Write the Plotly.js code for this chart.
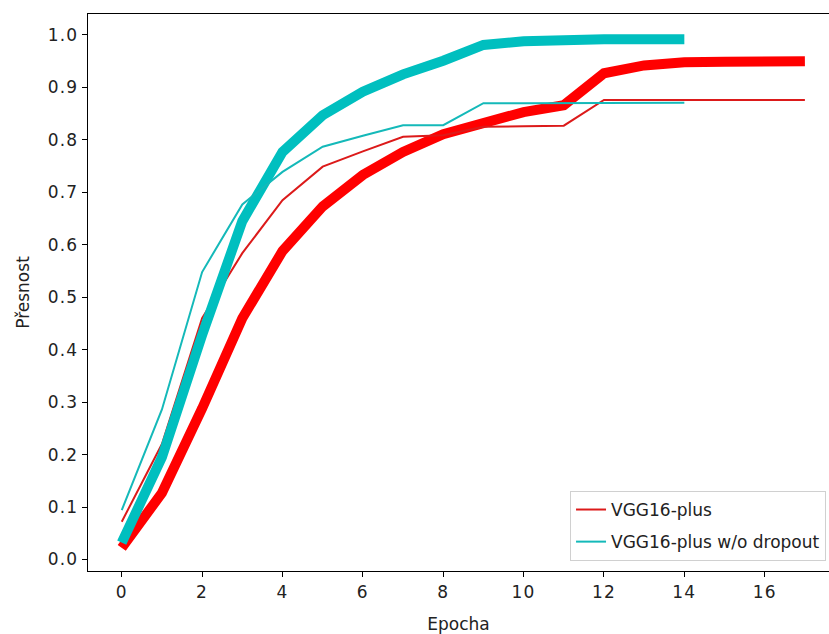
<!DOCTYPE html>
<html>
<head>
<meta charset="utf-8">
<script src="https://cdn.plot.ly/plotly-3.0.1.min.js"></script>
<style>
html,body{margin:0;padding:0;background:#fff;}
#chart{width:829px;height:634px;}
#chart .xtick text, #chart .ytick text{letter-spacing:1.2px;}
</style>
</head>
<body>
<div id="chart"></div>
<script>
// Epochs
const epochsPlus = [0,1,2,3,4,5,6,7,8,9,10,11,12,13,14,15,16,17];
const epochsNoDrop = [0,1,2,3,4,5,6,7,8,9,10,11,12,13,14];
// VGG16-plus (thick = training, thin = validation)
const plusTrain = [0.022,0.127,0.288,0.460,0.588,0.673,0.733,0.777,0.811,0.832,0.853,0.866,0.927,0.942,0.948,0.949,0.950,0.950];
const plusVal   = [0.072,0.220,0.460,0.584,0.685,0.749,0.778,0.806,0.809,0.825,0.826,0.827,0.876,0.876,0.876,0.876,0.876,0.876];
// VGG16-plus w/o dropout
const noDropTrain = [0.032,0.195,0.428,0.645,0.777,0.847,0.892,0.925,0.951,0.981,0.988,0.991,0.992,0.992,0.992];
const noDropVal   = [0.094,0.286,0.548,0.677,0.739,0.787,0.808,0.828,0.828,0.870,0.870,0.870,0.871,0.871,0.871];
const names = ['VGG16-plus', 'VGG16-plus w/o dropout'];
const xTicks = [0,2,4,6,8,10,12,14,16];
const yTicks = [0,0.1,0.2,0.3,0.4,0.5,0.6,0.7,0.8,0.9,1.0];

const RED = '#ff0000', RED_THIN = '#dc1a1a';
const CYAN = '#00bfbf', CYAN_THIN = '#14b9b9';

const traces = [
  {x: epochsPlus, y: plusTrain, mode: 'lines', line: {color: RED, width: 10}, showlegend: false, name: names[0], legendgroup: 'a'},
  {x: epochsPlus, y: plusVal, mode: 'lines', line: {color: RED_THIN, width: 2}, name: names[0], legendgroup: 'a'},
  {x: epochsNoDrop, y: noDropTrain, mode: 'lines', line: {color: CYAN, width: 10}, showlegend: false, name: names[1], legendgroup: 'b'},
  {x: epochsNoDrop, y: noDropVal, mode: 'lines', line: {color: CYAN_THIN, width: 2}, name: names[1], legendgroup: 'b'}
];

const font = {family: 'DejaVu Sans, sans-serif', size: 17, color: '#222'};
const layout = {
  width: 829, height: 634,
  margin: {l: 88, r: 0, t: 14, b: 63, pad: 0},
  paper_bgcolor: '#fff', plot_bgcolor: '#fff',
  font: font,
  showlegend: true,
  xaxis: {
    range: [-0.84, 17.6], tickvals: xTicks, ticktext: xTicks.map(String),
    showgrid: false, zeroline: false, showline: true, linecolor: '#000', linewidth: 1.2, mirror: true,
    ticks: 'outside', ticklen: 5, tickcolor: '#000', tickwidth: 1,
    title: {text: 'Epocha', font: font, standoff: 17}, automargin: false
  },
  yaxis: {
    range: [-0.022, 1.040], tickvals: yTicks, ticktext: yTicks.map(v => v.toFixed(1)),
    showgrid: false, zeroline: false, showline: true, linecolor: '#000', linewidth: 1.2, mirror: false,
    ticks: 'outside', ticklen: 5, tickcolor: '#000', tickwidth: 1,
    title: {text: 'Přesnost', font: font, standoff: 17}, automargin: false
  },
  legend: {
    x: 0.996, xanchor: 'right', y: 0.018, yanchor: 'bottom',
    bgcolor: 'rgba(255,255,255,0.9)', bordercolor: '#d0d0d0', borderwidth: 1,
    font: {family: 'DejaVu Sans, sans-serif', size: 17, color: '#222'},
    tracegroupgap: 7
  }
};
Plotly.newPlot('chart', traces, layout, {staticPlot: true, displayModeBar: false});
</script>
</body>
</html>
